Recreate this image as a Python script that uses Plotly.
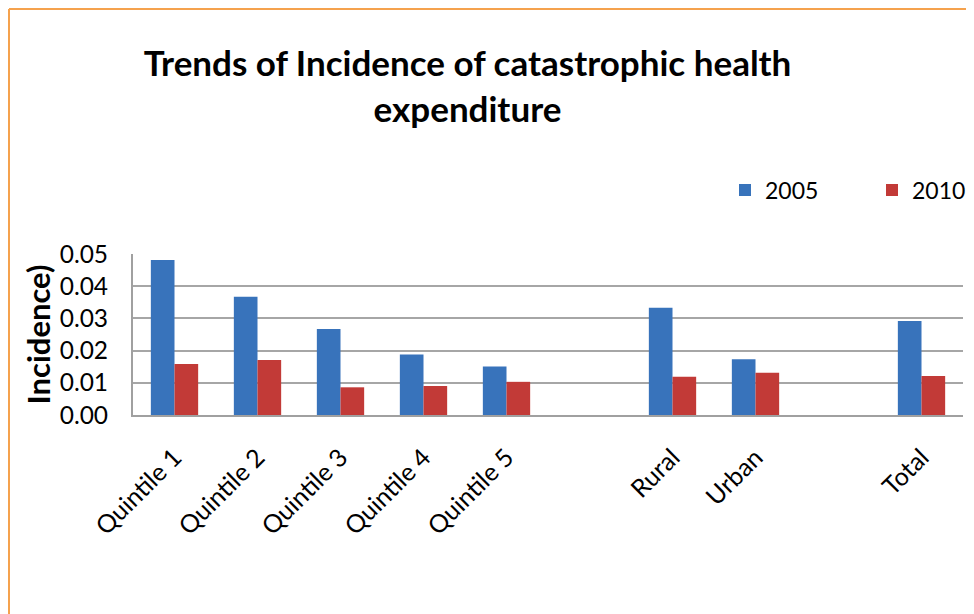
import plotly.graph_objects as go

categories = ["Quintile 1", "Quintile 2", "Quintile 3", "Quintile 4", "Quintile 5",
              " ", "Rural", "Urban", "  ", "Total"]
values_2005 = [0.0481, 0.0367, 0.0267, 0.0188, 0.0151, None, 0.0333, 0.0173, None, 0.0292]
values_2010 = [0.0158, 0.0171, 0.0086, 0.0090, 0.0103, None, 0.0119, 0.0131, None, 0.0121]
y_ticks = [0.00, 0.01, 0.02, 0.03, 0.04, 0.05]

# The page has an 8px body margin: page pixel P = figure pixel P + O
O = 8
W, H = 974, 614
PL, PR, PT, PB = 133, 963, 254, 415          # plot area in page pixels
L, R, T = PL - O, W - (PR - O), PT - O
B = H - (PB - O)
pw, ph = W - L - R, H - T - B

def px_x(p):   # page x -> paper
    return (p - O - L) / pw

def px_y(p):   # page y -> paper
    return (H - B - (p - O)) / ph

FONT = "Lato"

fig = go.Figure()
fig.add_trace(go.Bar(x=categories, y=values_2005, name="2005",
                     marker=dict(color="#3873bb", line=dict(width=0)), legend="legend"))
fig.add_trace(go.Bar(x=categories, y=values_2010, name="2010",
                     marker=dict(color="#c23a37", line=dict(width=0)), legend="legend2"))

fig.update_layout(
    width=W, height=H,
    margin=dict(l=L, r=R, t=T, b=B, autoexpand=False),
    paper_bgcolor="white", plot_bgcolor="white",
    font=dict(family=FONT, color="black"),
    bargap=0.43, bargroupgap=0,
    title=dict(text="<b>Trends of Incidence of catastrophic health<br>expenditure</b>",
               x=(467.5 - O) / W, xanchor="center", xref="container",
               y=1 - 68 / H, yanchor="top", yref="container",
               font=dict(family=FONT, size=35, color="black")),
    legend=dict(x=px_x(765 - 40), y=px_y(190), xanchor="left", yanchor="middle",
                font=dict(size=23), bgcolor="rgba(0,0,0,0)"),
    legend2=dict(x=px_x(912 - 40), y=px_y(190), xanchor="left", yanchor="middle",
                 font=dict(size=23), bgcolor="rgba(0,0,0,0)"),
    showlegend=True,
)

fig.update_xaxes(type="category", categoryorder="array", categoryarray=categories,
                 tickangle=-45, tickfont=dict(size=25, family=FONT),
                 ticklabelstandoff=16,
                 showline=True, linecolor="#a0a0a0", linewidth=2,
                 showgrid=False, ticks="", automargin=False)
fig.update_yaxes(range=[0, 0.05], tickvals=y_ticks, tickformat=".2f",
                 tickfont=dict(size=24.5, family=FONT),
                 showgrid=True, gridcolor="#a6a6a6", gridwidth=2,
                 showline=True, linecolor="#a0a0a0", linewidth=2,
                 ticks="", ticklabelstandoff=18, zeroline=False,
                 title=dict(text="<b>Incidence)</b>", font=dict(size=31, family=FONT),
                            standoff=0),
                 automargin=False)

border = "#f5a24d"
fig.add_shape(type="line", xref="paper", yref="paper",
              x0=px_x(9), x1=px_x(9), y0=px_y(9), y1=px_y(H + O), line=dict(color=border, width=2))
fig.add_shape(type="line", xref="paper", yref="paper",
              x0=px_x(9), x1=px_x(W + O), y0=px_y(9), y1=px_y(9), line=dict(color=border, width=2))

fig.write_html("out.html")
